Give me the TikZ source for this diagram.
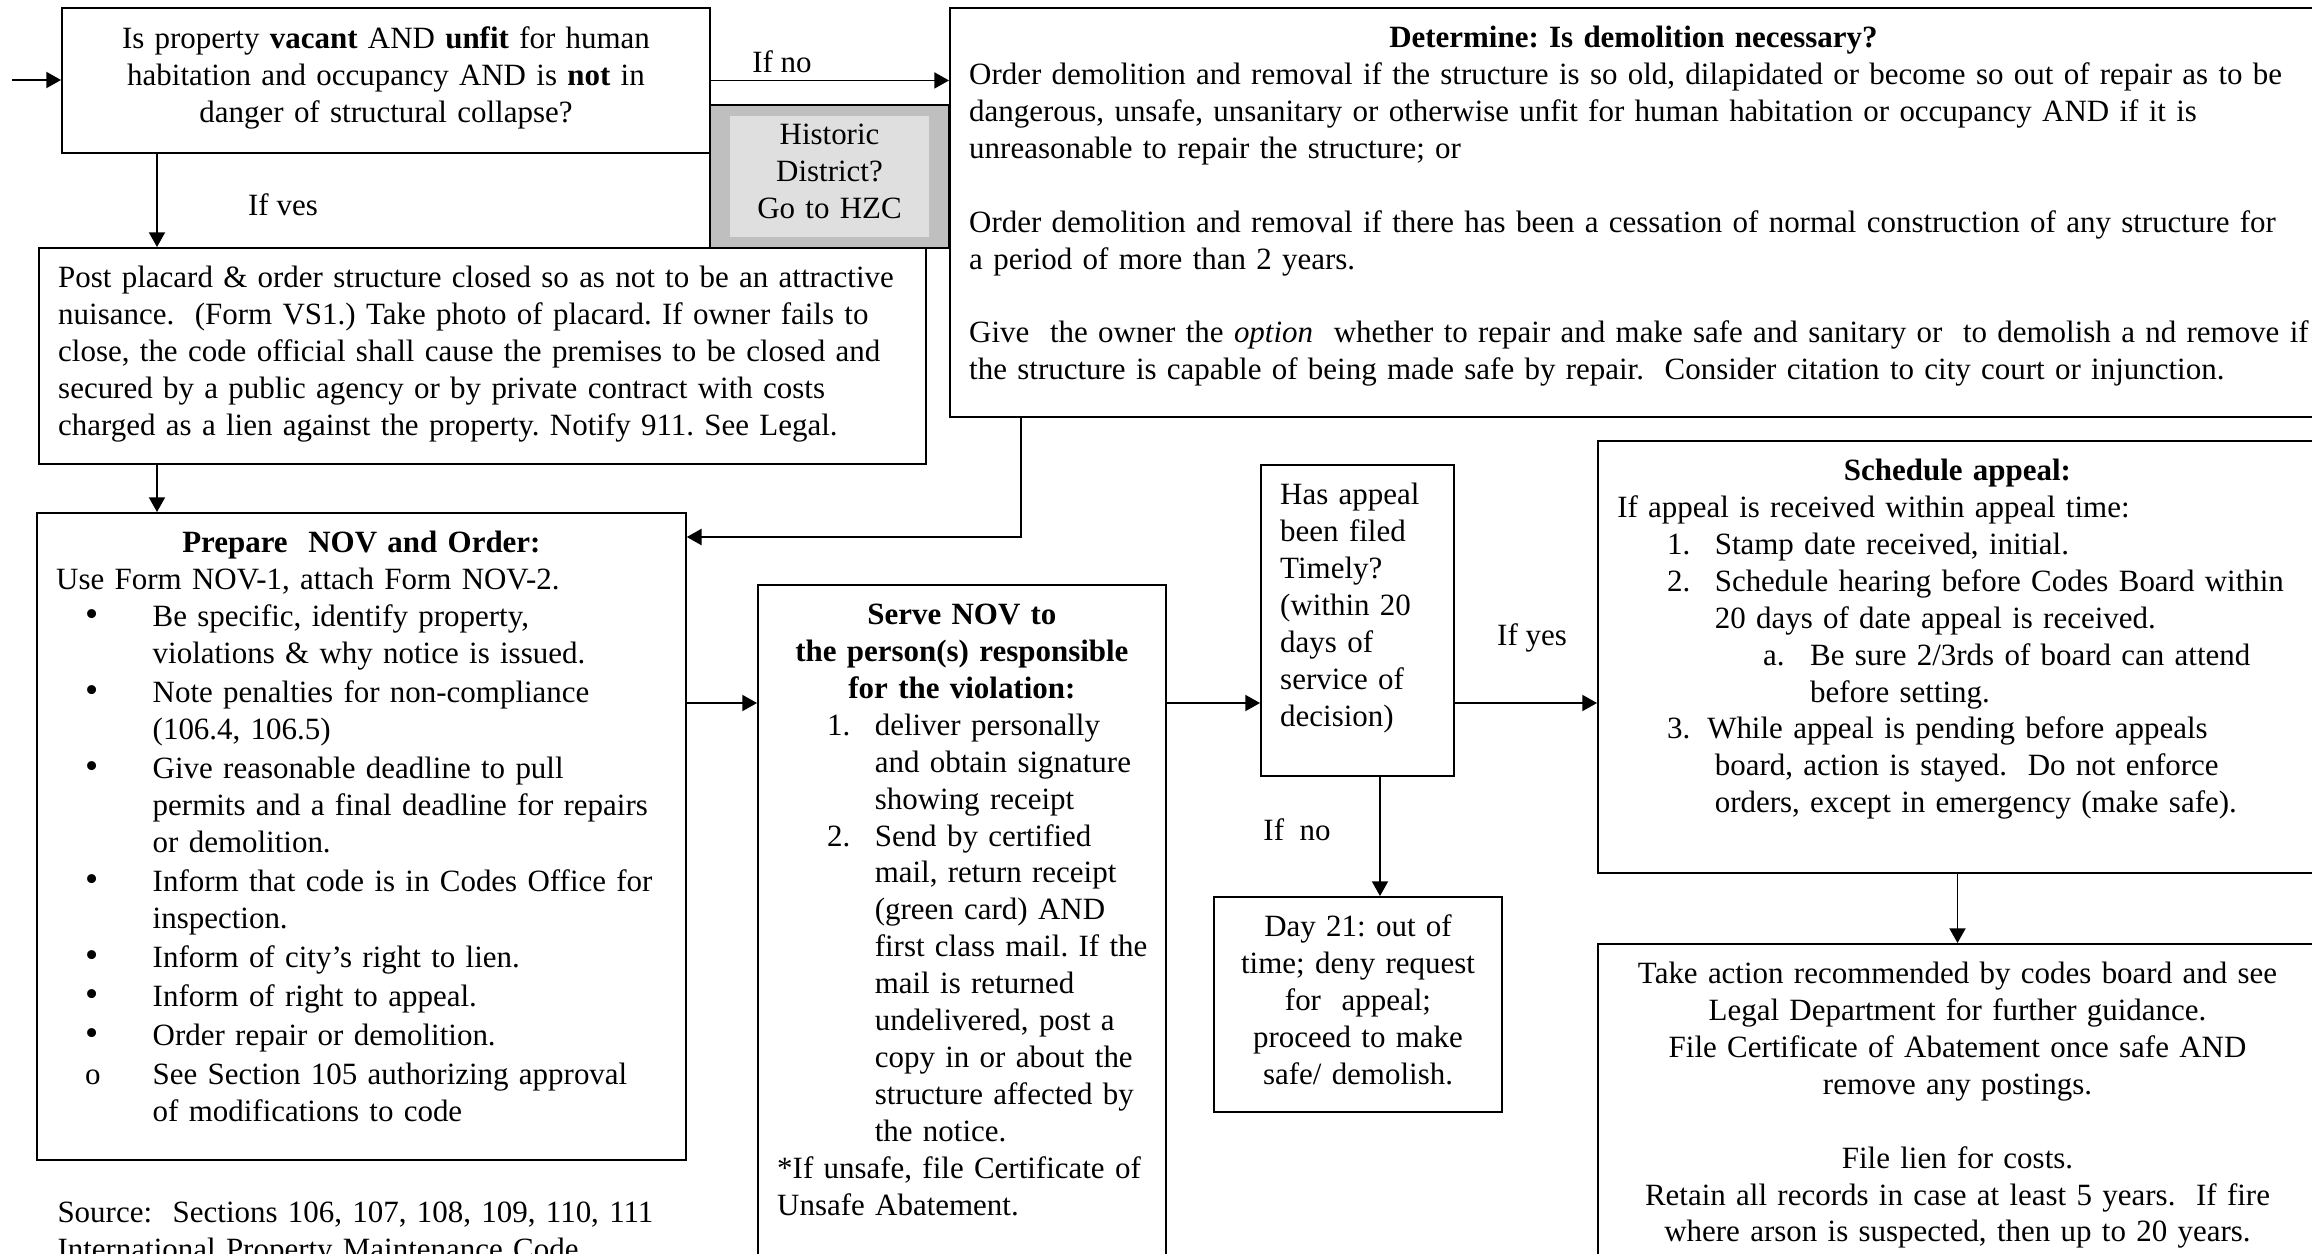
\documentclass[tikz,border=0pt]{standalone}
\usepackage{fontspec}
\setmainfont{Liberation Serif}
\usetikzlibrary{arrows.meta}
\frenchspacing
\newcommand{\boxfont}{\fontsize{11.55}{13.8}\selectfont\frenchspacing
   \hyphenpenalty=10000\exhyphenpenalty=10000}
\newcommand{\ctr}[1]{\makebox[\linewidth]{#1}}
\newcommand{\bigdot}{{\fontsize{14}{13.8}\selectfont\textbullet}}
\newcommand{\bitem}[1]{\hspace*{10.8pt}\makebox[25.2pt][l]{#1}}
\newcommand{\bcont}{\hspace*{36pt}}
\newcommand{\nitem}[1]{\hspace*{18.6pt}\makebox[17.8pt][l]{#1}}
\newcommand{\ncont}{\hspace*{36.4pt}}

\begin{document}
\begin{tikzpicture}[x=0.3731pt, y=-0.3731pt,
   box/.style={draw, line width=0.7pt, anchor=north west, inner xsep=7.2pt,
      inner ysep=0pt, text height=14.6pt, font=\boxfont},
   flow/.style={-{Triangle[length=5.5pt,width=6pt]}, line width=0.7pt},
   lbl/.style={font=\boxfont, inner sep=0pt}]
\useasboundingbox (0,0) rectangle (2312,1253);

\node[draw, line width=0.7pt, fill=gray!50, anchor=north west, inner sep=0pt,
   minimum width=89.2pt, minimum height=53.4pt] (hzc) at (709,104) {};
\node[fill=gray!25, anchor=north west, inner sep=0pt, text width=74.6pt,
   text height=10.8pt, text depth=34.7pt, align=center, font=\boxfont] (hzcin) at (729,115)
   {Historic\\District?\\Go to HZC};

\node[box, text width=227.4pt, text height=15.3pt, text depth=38.8pt, align=center] (q1) at (61,7)
   {Is property \textbf{vacant} AND \textbf{unfit} for human\\
    habitation and occupancy AND is \textbf{not} in\\
    danger of structural collapse?};

\node[box, text width=495.6pt, text depth=138pt, align=left] (det) at (949,7)
   {\ctr{\textbf{Determine: Is demolition necessary?}}\\
    \mbox{Order demolition and removal if the structure is so old, dilapidated or become so out of repair as to be}\\
    dangerous, unsafe, unsanitary or otherwise unfit for human habitation or occupancy AND if it is\\
    unreasonable to repair the structure; or\\[13.8pt]
    \mbox{Order demolition and removal if there has been a cessation of normal construction of any structure for}\\
    a period of more than 2 years.\\[13.8pt]
    \mbox{Give\ \ the owner the \textit{option}\ \ whether to repair and make safe and sanitary or\ \ to demolish a nd remove if}\\
    the structure is capable of being made safe by repair.\ \ Consider citation to city court or injunction.};

\node[box, text width=316.5pt, text depth=66pt, align=left] (post) at (38,247)
   {Post placard \& order structure closed so as not to be an attractive\\
    nuisance.\ \ (Form VS1.) Take photo of placard. If owner fails to\\
    close, the code official shall cause the premises to be closed and\\
    secured by a public agency or by private contract with costs\\
    charged as a lien against the property. Notify 911. See Legal.};

\node[box, text width=227.7pt, text depth=226.8pt, align=left] (prep) at (36,512)
   {\ctr{\textbf{Prepare\ \ NOV and Order:}}\\
    Use Form NOV-1, attach Form NOV-2.\\
    \bitem{\bigdot}Be specific, identify property,\\
    \bcont violations \& why notice is issued.\\[0.8pt]
    \bitem{\bigdot}Note penalties for non-compliance\\
    \bcont (106.4, 106.5)\\[0.8pt]
    \bitem{\bigdot}Give reasonable deadline to pull\\
    \bcont \mbox{permits and a final deadline for repairs}\\
    \bcont or demolition.\\[0.8pt]
    \bitem{\bigdot}Inform that code is in Codes Office for\\
    \bcont inspection.\\[0.8pt]
    \bitem{\bigdot}Inform of city's right to lien.\\[0.8pt]
    \bitem{\bigdot}Inform of right to appeal.\\[0.8pt]
    \bitem{\bigdot}Order repair or demolition.\\[0.8pt]
    \bitem{o}See Section 105 authorizing approval\\
    \bcont of modifications to code};

\node[box, text width=137.8pt, text depth=241.4pt, align=left] (serve) at (757,584)
   {\ctr{\textbf{Serve NOV to}}\\
    \ctr{\textbf{the person(s) responsible}}\\
    \ctr{\textbf{for the violation:}}\\
    \nitem{1.}deliver personally\\
    \ncont and obtain signature\\
    \ncont showing receipt\\
    \nitem{2.}Send by certified\\
    \ncont mail, return receipt\\
    \ncont (green card) AND\\
    \ncont \mbox{first class mail. If the}\\
    \ncont mail is returned\\
    \ncont undelivered, post a\\
    \ncont copy in or about the\\
    \ncont structure affected by\\
    \ncont the notice.\\{}
    \mbox{*If unsafe, file Certificate of}\\
    Unsafe Abatement.};

\node[box, text width=57.6pt, text depth=101.4pt, align=left] (has) at (1260,464)
   {Has appeal\\been filed\\Timely?\\(within 20\\days of\\service of\\decision)};

\node[box, text width=93.1pt, text depth=65.6pt, align=center] (day) at (1213,896)
   {Day 21: out of\\time; deny request\\for\ \ appeal;\\proceed to make\\safe/ demolish.};

\node[box, text width=253.9pt, text depth=146.6pt, align=left] (sched) at (1597,440)
   {\ctr{\textbf{Schedule appeal:}}\\
    If appeal is received within appeal time:\\
    \nitem{1.}Stamp date received, initial.\\
    \nitem{2.}\mbox{Schedule hearing before Codes Board within}\\
    \ncont 20 days of date appeal is received.\\
    \hspace*{54.4pt}\makebox[17.6pt][l]{a.}Be sure 2/3rds of board can attend\\
    \hspace*{72pt}before setting.\\
    \hspace*{18.6pt}\makebox[15pt][l]{3.}While appeal is pending before appeals\\
    \ncont board, action is stayed.\ \ Do not enforce\\
    \ncont \mbox{orders, except in emergency (make safe).}};

\node[box, text width=253.9pt, text depth=107.4pt, align=center] (take) at (1597,943)
   {Take action recommended by codes board and see\\
    Legal Department for further guidance.\\
    File Certificate of Abatement once safe AND\\
    remove any postings.\\[13.8pt]
    File lien for costs.\\
    Retain all records in case at least 5 years.\ \ If fire\\
    where arson is suspected, then up to 20 years.};

\node[lbl, anchor=base west, text width=300pt, align=left] (src) at (57,1222)
   {Source:\ \ Sections 106, 107, 108, 109, 110, 111\\
    International Property Maintenance Code};

\node[lbl] (ifno) at (782,62) {If no};
\node[lbl] (ifyes) at (283,205) {If ves};
\node[lbl] (ifyes2) at (1532,638) {If yes};
\node[lbl] (ifno2) at (1297,830) {If\ \ no};

\coordinate (in) at (12,80);
\coordinate (colA) at (157,0);
\coordinate (bend) at (1021,537);
\coordinate (rowB) at (0,703);
\coordinate (colC) at (1380,0);

\path
    (in) edge[flow] (in -| q1.west)
    (q1.east) edge[flow] (q1.east -| det.west)
    (q1.south -| colA) edge[flow] (post.north -| colA)
    (post.south -| colA) edge[flow] (prep.north -| colA)
    (prep.east |- rowB) edge[flow] (serve.west |- rowB)
    (serve.east |- rowB) edge[flow] (has.west |- rowB)
    (has.east |- rowB) edge[flow] (sched.west |- rowB)
    (has.south -| colC) edge[flow] (day.north -| colC)
    (sched.south) edge[flow] (take.north)
;
\draw[flow] (det.south -| bend) |- (prep.east |- bend);

\end{tikzpicture}
\end{document}
